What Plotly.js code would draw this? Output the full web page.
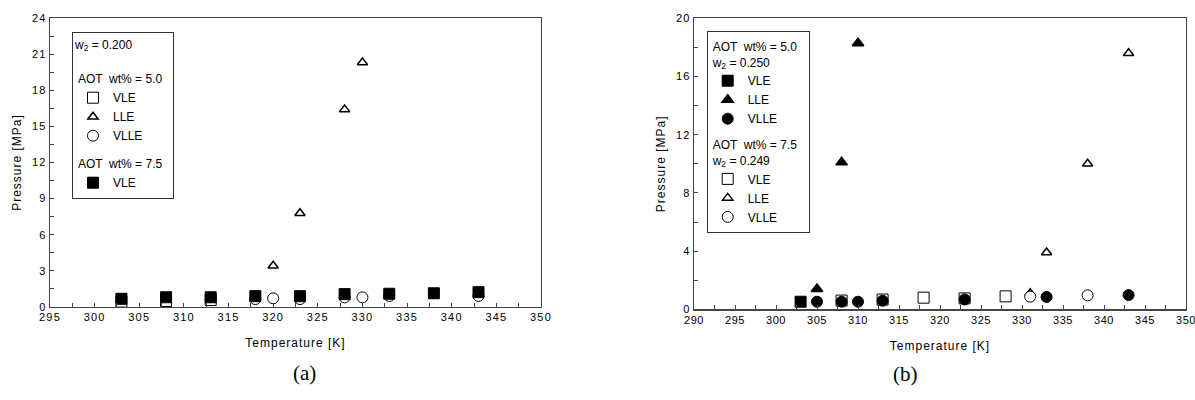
<!DOCTYPE html>
<html>
<head>
<meta charset="utf-8">
<script src="https://cdn.plot.ly/plotly-3.0.1.min.js"></script>
<style>
body{margin:0;background:#fff}
#chart{width:1195px;height:400px}
#chart .xtick text, #chart .ytick text, #chart .y2tick text{letter-spacing:1.2px}
#chart .x2tick text{letter-spacing:0.5px}
#chart .xtitle, #chart .x2title, #chart .ytitle, #chart .y2title{letter-spacing:1px}
</style>
</head>
<body>
<div id="chart"></div>
<script>
// ---- Panel (a) data ----
const a_vle5_T = [303, 308, 313];
const a_vle5_P = [0.45, 0.5, 0.58];
const a_lle5_T = [320, 323, 328, 330];
const a_lle5_P = [3.43, 7.78, 16.4, 20.3];
const a_vlle5_T = [318, 320, 323, 328, 330, 333, 343];
const a_vlle5_P = [0.66, 0.72, 0.66, 0.8, 0.8, 0.92, 0.92];
const a_vle75_T = [303, 308, 313, 318, 323, 328, 333, 338, 343];
const a_vle75_P = [0.68, 0.81, 0.81, 0.9, 0.9, 1.07, 1.1, 1.14, 1.23];

// ---- Panel (b) data ----
const b_vle5_T = [303];
const b_vle5_P = [0.52];
const b_lle5_T = [305, 308, 310];
const b_lle5_P = [1.4, 10.1, 18.28];
const b_vlle5_T = [305, 308, 310, 313, 323, 333, 343];
const b_vlle5_P = [0.52, 0.52, 0.52, 0.59, 0.68, 0.85, 0.98];
const b_vle75_T = [308, 313, 318, 323, 328];
const b_vle75_P = [0.6, 0.67, 0.8, 0.75, 0.89];
const b_lle75_T = [331, 333, 338, 343];
const b_lle75_P = [1.1, 3.9, 10.0, 17.6];
const b_vlle75_T = [331, 338];
const b_vlle75_P = [0.87, 0.96];

// ---- Axis ticks ----
const a_xticks = [295, 300, 305, 310, 315, 320, 325, 330, 335, 340, 345, 350];
const a_yticks = [0, 3, 6, 9, 12, 15, 18, 21, 24];
const b_xticks = [290, 295, 300, 305, 310, 315, 320, 325, 330, 335, 340, 345, 350];
const b_yticks = [0, 4, 8, 12, 16, 20];

const FONT = 'Liberation Sans, Arial, sans-serif';
const BLACK = '#000';

function mk(T, P, symbol, filled, size, xa, ya, name, group, gtitle, legend, rank) {
  const tri = symbol.indexOf('triangle') === 0;
  return {
    x: T, y: P, type: 'scatter', mode: 'markers', xaxis: xa, yaxis: ya,
    name: name, legendgroup: group, legend: legend, legendrank: rank,
    legendgrouptitle: {text: gtitle, font: {family: FONT, size: 12, color: BLACK}},
    marker: {symbol: symbol, size: size, color: filled ? BLACK : '#fff',
             line: {color: BLACK, width: tri ? 1.5 : 1}},
    hoverinfo: 'x+y'
  };
}

const G_A5 = 'AOT  wt% = 5.0';
const G_A75 = 'AOT  wt% = 7.5';
const G_B5 = 'AOT  wt% = 5.0<br>w<sub>2</sub> = 0.250';
const G_B75 = 'AOT  wt% = 7.5<br>w<sub>2</sub> = 0.249';

const traces = [
  // (a)
  mk(a_vle5_T, a_vle5_P, 'square', false, 11, 'x', 'y', 'VLE', 'a5', G_A5, 'legend', 1),
  mk(a_lle5_T, a_lle5_P, 'triangle-up', false, 9, 'x', 'y', 'LLE', 'a5', G_A5, 'legend', 2),
  mk(a_vlle5_T, a_vlle5_P, 'circle', false, 11, 'x', 'y', 'VLLE', 'a5', G_A5, 'legend', 3),
  mk(a_vle75_T, a_vle75_P, 'square', true, 11, 'x', 'y', 'VLE', 'a75', G_A75, 'legend', 4),
  // (b) open (7.5) drawn first
  mk(b_vle75_T, b_vle75_P, 'square', false, 11, 'x2', 'y2', 'VLE', 'b75', G_B75, 'legend2', 4),
  mk(b_lle75_T, b_lle75_P, 'triangle-up', false, 9, 'x2', 'y2', 'LLE', 'b75', G_B75, 'legend2', 5),
  mk(b_vlle75_T, b_vlle75_P, 'circle', false, 11, 'x2', 'y2', 'VLLE', 'b75', G_B75, 'legend2', 6),
  mk(b_vle5_T, b_vle5_P, 'square', true, 11, 'x2', 'y2', 'VLE', 'b5', G_B5, 'legend2', 1),
  mk(b_lle5_T, b_lle5_P, 'triangle-up', true, 10, 'x2', 'y2', 'LLE', 'b5', G_B5, 'legend2', 2),
  mk(b_vlle5_T, b_vlle5_P, 'circle', true, 11, 'x2', 'y2', 'VLLE', 'b5', G_B5, 'legend2', 3)
];

function xaxis(domain, range, ticks) {
  return {
    domain: domain, range: range, tickvals: ticks, ticktext: ticks.map(String),
    showgrid: false, zeroline: false, showline: true, mirror: true,
    linecolor: '#444', linewidth: 1.2,
    ticks: 'inside', ticklen: 4, tickcolor: '#444',
    minor: {ticks: 'inside', ticklen: 4, tickcolor: '#444', dtick: 2.5, showgrid: false},
    tickfont: {family: FONT, size: 11, color: BLACK},
    ticklabeloverflow: 'allow',
    title: {text: 'Temperature [K]', font: {family: FONT, size: 12, color: BLACK}, standoff: 16},
    fixedrange: true
  };
}
function yaxis(domain, range, ticks, minor, anchor) {
  return {
    domain: domain, range: range, tickvals: ticks, ticktext: ticks.map(String),
    anchor: anchor,
    showgrid: false, zeroline: false, showline: true, mirror: true,
    linecolor: '#444', linewidth: 1.2,
    ticks: 'inside', ticklen: 4, tickcolor: '#444',
    minor: {ticks: 'inside', ticklen: 4, tickcolor: '#444', dtick: minor, showgrid: false},
    tickfont: {family: FONT, size: 11, color: BLACK},
    ticklabeloverflow: 'allow',
    title: {text: 'Pressure [MPa]', font: {family: FONT, size: 12, color: BLACK}, standoff: 10},
    fixedrange: true
  };
}

const legendBase = {
  bgcolor: '#fff', bordercolor: '#333', borderwidth: 1,
  font: {family: FONT, size: 12, color: BLACK},
  traceorder: 'grouped',
  xanchor: 'left', yanchor: 'top', itemclick: false, itemdoubleclick: false,
  itemwidth: 30
};

const layout = {
  width: 1195, height: 400,
  margin: {l: 0, r: 0, t: 0, b: 0},
  paper_bgcolor: '#fff', plot_bgcolor: '#fff',
  showlegend: true,
  xaxis: Object.assign(xaxis([50/1195, 541/1195], [295, 350], a_xticks), {anchor: 'y'}),
  yaxis: yaxis([1 - 307/400, 1 - 18/400], [0, 24], a_yticks, 1.5, 'x'),
  xaxis2: Object.assign(xaxis([694/1195, 1186/1195], [290, 350], b_xticks), {anchor: 'y2'}),
  yaxis2: yaxis([1 - 309.3/400, 1 - 18.3/400], [0, 20], b_yticks, 2, 'x2'),
  legend: Object.assign({}, legendBase, {
    x: 72/1195, y: 1 - 32/400,
    title: {text: 'w<sub>2</sub> = 0.200<br> ', font: {family: FONT, size: 12, color: BLACK}},
    tracegroupgap: 9
  }),
  legend2: Object.assign({}, legendBase, {
    x: 706.7/1195, y: 1 - 31/400, tracegroupgap: 7
  }),
  annotations: [
    {text: '(a)', x: 291/1195, y: 1 - 387/400, xref: 'paper', yref: 'paper',
     showarrow: false, font: {family: 'Liberation Serif, Times New Roman, serif', size: 21, color: BLACK}},
    {text: '(b)', x: 920/1195, y: 1 - 388/400, xref: 'paper', yref: 'paper',
     showarrow: false, font: {family: 'Liberation Serif, Times New Roman, serif', size: 21, color: BLACK}}
  ]
};

Plotly.newPlot('chart', traces, layout, {displayModeBar: false, staticPlot: true});
</script>
</body>
</html>
